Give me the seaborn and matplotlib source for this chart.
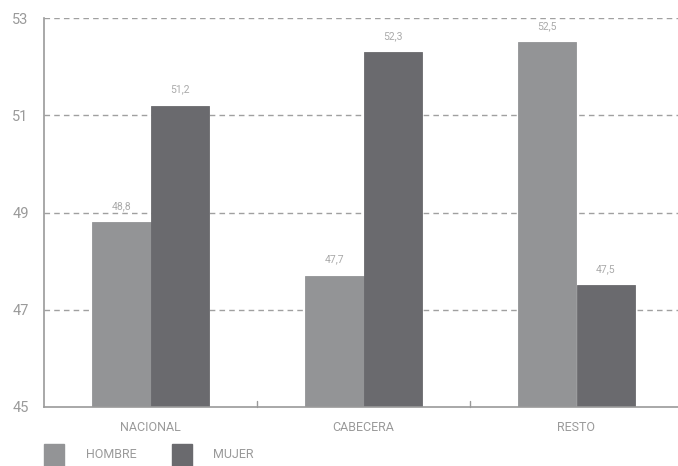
import matplotlib
matplotlib.use("Agg")
import matplotlib.pyplot as plt
import seaborn as sns
import pandas as pd
from matplotlib.patches import Rectangle

categories = ["NACIONAL", "CABECERA", "RESTO"]
series = ["HOMBRE", "MUJER"]
hombre = [48.8, 47.7, 52.5]
mujer = [51.2, 52.3, 47.5]
yticks = [45, 47, 49, 51, 53]

colors = {"HOMBRE": "#939496", "MUJER": "#6a6a6e"}
txt = "#9a9a9a"

sns.set_theme(style="white")
plt.rcParams['font.family'] = ['Roboto', 'DejaVu Sans']

df = pd.DataFrame({
    "cat": categories * 2,
    "serie": ["HOMBRE"] * 3 + ["MUJER"] * 3,
    "val": hombre + mujer,
})

fig = plt.figure(figsize=(6.78, 4.66), dpi=100)
ax = fig.add_axes([44/678, 1-407/466, 639/678, (407-18)/466])
sns.barplot(data=df, x="cat", y="val", hue="serie", order=categories,
            hue_order=series, palette=colors, width=0.55, ax=ax,
            saturation=1, legend=False, linewidth=0)

for p in ax.patches:
    p.set_edgecolor(p.get_facecolor())
    p.set_linewidth(0.6)

ax.set_ylim(45, 53)
ax.set_xlim(-0.5, 2.5)
ax.set_yticks(yticks)
ax.set_yticklabels([str(t) for t in yticks], color=txt, fontsize=10.5)
ax.tick_params(axis='y', length=0, pad=11)
ax.tick_params(axis='x', length=0, pad=10, labelsize=9, labelcolor=txt)
ax.set_xlabel("")
ax.set_ylabel("")
for y in yticks[1:]:
    ax.axhline(y, color="#a0a0a0", lw=1, ls=(0, (4, 3)), zorder=0)
for s in ["top", "right"]:
    ax.spines[s].set_visible(False)
for s in ["left", "bottom"]:
    ax.spines[s].set_color("#9a9a9a")
    ax.spines[s].set_linewidth(1.2)
for xb in [0.5, 1.5]:
    ax.plot([xb, xb], [45, 45.12], color="#9a9a9a", lw=1, clip_on=False)

for cont in ax.containers:
    for bar in cont:
        h = bar.get_height()
        ax.annotate(f"{h:.1f}".replace(".", ","),
                    (bar.get_x() + bar.get_width()/2, h),
                    xytext=(0, 8), textcoords="offset points",
                    ha="center", va="bottom", fontsize=7.5, color="#aaaaaa")

for name, x0, tx in [("HOMBRE", 44, 86), ("MUJER", 172, 213)]:
    fig.patches.append(Rectangle((x0/678, 0.0), 20/678, 22/466,
                                 transform=fig.transFigure, color=colors[name]))
    fig.text(tx/678, 1-455/466, name, color=txt, fontsize=9, va="center", ha="left")

fig.savefig("out.png", dpi=100)
